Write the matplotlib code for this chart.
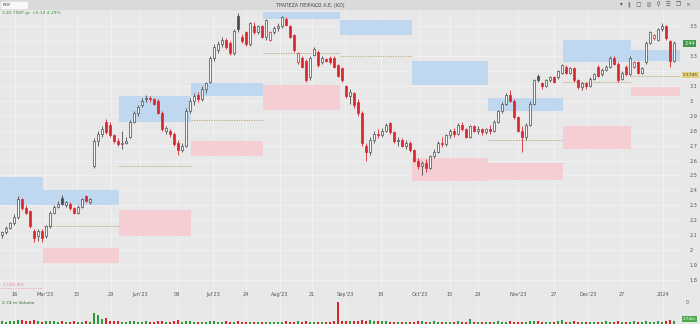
import numpy as np
import matplotlib.pyplot as plt
from matplotlib.patches import Rectangle

# daily candles (open, high, low, close)
opens = [2.10, 2.12, 2.15, 2.18, 2.22, 2.34, 2.28, 2.26, 2.13, 2.09,
         2.13, 2.09, 2.16, 2.25, 2.29, 2.35, 2.30, 2.31, 2.28, 2.25,
         2.29, 2.36, 2.32, 2.56, 2.73, 2.78, 2.86, 2.84, 2.77, 2.73,
         2.71, 2.72, 2.76, 2.86, 2.92, 2.97, 3.01, 3.02, 3.01, 3.00,
         2.92, 2.80, 2.80, 2.78, 2.72, 2.67, 2.70, 2.93, 3.00, 3.04,
         3.01, 3.08, 3.13, 3.29, 3.34, 3.38, 3.41, 3.39, 3.32, 3.57,
         3.43, 3.46, 3.38, 3.50, 3.46, 3.50, 3.43, 3.41, 3.46, 3.49,
         3.50, 3.55, 3.50, 3.44, 3.26, 3.29, 3.27, 3.16, 3.31, 3.33,
         3.26, 3.28, 3.29, 3.29, 3.24, 3.22, 3.10, 3.03, 3.05, 2.99,
         2.92, 2.70, 2.66, 2.74, 2.78, 2.77, 2.80, 2.85, 2.79, 2.73,
         2.74, 2.70, 2.72, 2.67, 2.60, 2.56, 2.58, 2.55, 2.63, 2.66,
         2.72, 2.71, 2.77, 2.80, 2.78, 2.84, 2.81, 2.76, 2.83, 2.80,
         2.81, 2.79, 2.81, 2.80, 2.86, 2.93, 2.98, 3.04, 3.00, 2.89,
         2.80, 2.76, 2.84, 2.98, 3.17, 3.12, 3.10, 3.14, 3.16, 3.16,
         3.19, 3.23, 3.19, 3.22, 3.14, 3.09, 3.12, 3.10, 3.15, 3.23,
         3.18, 3.21, 3.23, 3.29, 3.25, 3.15, 3.23, 3.18, 3.23, 3.26,
         3.19, 3.26, 3.39, 3.42, 3.41, 3.48, 3.50, 3.40, 3.27]
highs = [2.13, 2.16, 2.19, 2.24, 2.36, 2.35, 2.30, 2.27, 2.14, 2.14,
         2.14, 2.17, 2.26, 2.30, 2.33, 2.37, 2.33, 2.32, 2.29, 2.30,
         2.35, 2.37, 2.35, 2.75, 2.80, 2.83, 2.88, 2.86, 2.78, 2.75,
         2.80, 2.76, 2.87, 2.93, 2.97, 3.02, 3.04, 3.03, 3.02, 3.01,
         2.93, 2.83, 2.81, 2.79, 2.74, 2.72, 2.95, 3.02, 3.05, 3.06,
         3.10, 3.13, 3.30, 3.38, 3.40, 3.43, 3.42, 3.40, 3.48, 3.59,
         3.45, 3.47, 3.53, 3.53, 3.51, 3.51, 3.55, 3.47, 3.50, 3.52,
         3.57, 3.56, 3.51, 3.45, 3.33, 3.30, 3.28, 3.30, 3.36, 3.34,
         3.30, 3.29, 3.30, 3.30, 3.25, 3.23, 3.11, 3.08, 3.06, 3.01,
         2.93, 2.72, 2.76, 2.80, 2.81, 2.82, 2.85, 2.86, 2.80, 2.76,
         2.75, 2.74, 2.73, 2.68, 2.62, 2.60, 2.61, 2.64, 2.68, 2.73,
         2.76, 2.78, 2.81, 2.82, 2.85, 2.86, 2.82, 2.84, 2.84, 2.83,
         2.82, 2.82, 2.84, 2.87, 2.94, 2.99, 3.05, 3.07, 3.01, 2.90,
         2.83, 2.85, 3.00, 3.15, 3.18, 3.13, 3.15, 3.17, 3.17, 3.21,
         3.25, 3.24, 3.23, 3.23, 3.15, 3.13, 3.13, 3.16, 3.19, 3.24,
         3.22, 3.24, 3.30, 3.30, 3.26, 3.20, 3.24, 3.30, 3.27, 3.27,
         3.23, 3.40, 3.47, 3.45, 3.49, 3.52, 3.51, 3.41, 3.40]
lows = [2.08, 2.11, 2.14, 2.17, 2.21, 2.27, 2.24, 2.15, 2.05, 2.06,
        2.05, 2.08, 2.15, 2.24, 2.28, 2.30, 2.29, 2.27, 2.24, 2.24,
        2.28, 2.32, 2.31, 2.55, 2.70, 2.76, 2.78, 2.76, 2.72, 2.70,
        2.68, 2.71, 2.75, 2.85, 2.90, 2.96, 2.99, 2.99, 2.97, 2.91,
        2.80, 2.78, 2.76, 2.70, 2.64, 2.66, 2.69, 2.92, 2.97, 2.99,
        3.00, 3.05, 3.12, 3.27, 3.32, 3.36, 3.35, 3.31, 3.31, 3.46,
        3.39, 3.37, 3.37, 3.45, 3.45, 3.42, 3.41, 3.40, 3.45, 3.47,
        3.49, 3.50, 3.42, 3.33, 3.25, 3.22, 3.13, 3.14, 3.30, 3.23,
        3.25, 3.26, 3.25, 3.22, 3.16, 3.13, 3.02, 2.98, 2.95, 2.90,
        2.70, 2.60, 2.64, 2.72, 2.75, 2.76, 2.79, 2.78, 2.72, 2.70,
        2.69, 2.68, 2.66, 2.59, 2.54, 2.50, 2.52, 2.54, 2.62, 2.65,
        2.69, 2.70, 2.75, 2.76, 2.77, 2.80, 2.75, 2.75, 2.79, 2.78,
        2.77, 2.78, 2.78, 2.79, 2.85, 2.92, 2.97, 2.99, 2.88, 2.79,
        2.66, 2.74, 2.83, 2.97, 3.13, 3.08, 3.09, 3.13, 3.12, 3.15,
        3.18, 3.18, 3.18, 3.13, 3.08, 3.07, 3.08, 3.09, 3.14, 3.16,
        3.17, 3.20, 3.22, 3.24, 3.13, 3.14, 3.17, 3.17, 3.22, 3.18,
        3.18, 3.25, 3.38, 3.41, 3.40, 3.47, 3.41, 3.23, 3.26]
closes = [2.12, 2.15, 2.18, 2.22, 2.34, 2.28, 2.25, 2.16, 2.08, 2.13,
          2.08, 2.16, 2.25, 2.29, 2.31, 2.31, 2.32, 2.28, 2.25, 2.29,
          2.34, 2.33, 2.34, 2.73, 2.78, 2.81, 2.79, 2.77, 2.73, 2.71,
          2.72, 2.73, 2.86, 2.92, 2.96, 3.00, 3.02, 3.01, 2.98, 2.92,
          2.81, 2.82, 2.78, 2.71, 2.67, 2.70, 2.93, 3.00, 3.03, 3.01,
          3.08, 3.12, 3.29, 3.36, 3.38, 3.41, 3.36, 3.32, 3.47, 3.48,
          3.40, 3.38, 3.52, 3.46, 3.50, 3.43, 3.54, 3.46, 3.49, 3.50,
          3.56, 3.51, 3.43, 3.34, 3.32, 3.23, 3.14, 3.29, 3.35, 3.24,
          3.29, 3.27, 3.26, 3.23, 3.17, 3.14, 3.03, 3.06, 2.97, 2.92,
          2.72, 2.66, 2.74, 2.78, 2.77, 2.80, 2.84, 2.79, 2.73, 2.74,
          2.70, 2.72, 2.67, 2.60, 2.56, 2.58, 2.55, 2.63, 2.66, 2.72,
          2.71, 2.77, 2.80, 2.78, 2.84, 2.81, 2.76, 2.83, 2.80, 2.81,
          2.79, 2.81, 2.80, 2.86, 2.93, 2.98, 3.04, 3.00, 2.89, 2.80,
          2.76, 2.84, 2.98, 3.14, 3.14, 3.10, 3.14, 3.16, 3.13, 3.20,
          3.24, 3.19, 3.22, 3.14, 3.09, 3.12, 3.10, 3.15, 3.18, 3.17,
          3.21, 3.23, 3.29, 3.25, 3.14, 3.19, 3.18, 3.29, 3.26, 3.19,
          3.22, 3.39, 3.46, 3.44, 3.48, 3.50, 3.42, 3.27, 3.39]
volumes = [5, 4, 5, 6, 8, 7, 5, 6, 7, 5,
           4, 5, 6, 5, 4, 5, 4, 4, 5, 4,
           4, 5, 4, 22, 17, 10, 12, 6, 5, 5,
           4, 4, 5, 5, 4, 4, 5, 4, 4, 5,
           6, 4, 4, 5, 7, 4, 6, 5, 4, 4,
           4, 4, 6, 5, 4, 4, 5, 4, 4, 5,
           4, 4, 4, 4, 4, 4, 4, 4, 4, 4,
           4, 5, 4, 4, 5, 4, 5, 4, 4, 4,
           4, 4, 4, 5, 42, 5, 6, 5, 6, 5,
           7, 6, 7, 5, 5, 6, 5, 4, 4, 4,
           4, 4, 4, 4, 5, 5, 4, 4, 5, 4,
           4, 4, 4, 4, 6, 4, 4, 9, 4, 4,
           4, 4, 4, 4, 5, 4, 4, 5, 4, 4,
           4, 4, 5, 6, 5, 4, 4, 4, 4, 5,
           8, 4, 4, 5, 4, 4, 4, 4, 4, 4,
           4, 5, 4, 4, 5, 4, 4, 4, 5, 4,
           4, 5, 4, 4, 5, 4, 6, 7, 5]

# date axis labels and their bar index
tick_pos = [3.25, 10.75, 18.75, 27.25, 34.5, 43.75, 52.75, 61, 69.5, 77.5,
            85.75, 94.75, 104.5, 112, 119, 129, 138, 146.5, 155, 165.25]
tick_labels = ["16", "Mar'23", "15", "29", "Jun'23", "08", "Jul'23", "24",
               "Aug'23", "21", "Sep'23", "18", "Oct'23", "15", "29",
               "Nov'23", "27", "Dec'23", "27", "2024"]

# price ticks on the right (3.4 and 3.2 sit under the price tags)
price_ticks = [1.8, 1.9, 2.0, 2.1, 2.2, 2.3, 2.4, 2.5, 2.6, 2.7, 2.8, 2.9,
               3.0, 3.1, 3.2, 3.3, 3.4, 3.5]
price_labels = ['1.8', '1.9', '2', '2.1', '2.2', '2.3', '2.4', '2.5', '2.6',
                '2.7', '2.8', '2.9', '3', '3.1', '', '3.3', '', '3.5']

# supply / demand zones: start bar, end bar, blue range, red range, mid line
zone_start = [-0.5, 10.25, 29.25, 47.25, 65.25, 84.5, 102.5, 121.5, 140.25, 157.25]
zone_end = [10.25, 29.25, 47.25, 65.25, 84.5, 102.5, 121.5, 140.25, 157.25, 169.5]
blue_lo = [2.30, 2.30, 2.86, 3.03, 3.55, 3.44, 3.11, 2.93, 3.26, 3.27]
blue_hi = [2.49, 2.40, 3.03, 3.12, 3.60, 3.54, 3.27, 3.02, 3.41, 3.34]
red_lo = [None, 1.91, 2.09, 2.63, 2.94, None, 2.46, 2.47, 2.68, 3.03]
red_hi = [None, 2.01, 2.27, 2.73, 3.11, None, 2.62, 2.58, 2.83, 3.09]
mid_line = [None, 2.16, 2.56, 2.87, 3.32, 3.30, None, 2.74, 3.13, 3.17]

bg = '#e8e8e8'
grid_c = '#f2f2f2'
red = '#d8262f'
edge = '#4a4a4a'
green = '#2f9a3a'

fig = plt.figure(figsize=(7, 3.24), dpi=100)
fig.patch.set_facecolor(bg)
W, H = 700, 324


def box(x0, y0, x1, y1):
    return [x0 / W, 1 - y1 / H, (x1 - x0) / W, (y1 - y0) / H]


ax = fig.add_axes(box(0, 9, 681, 299))
vax = fig.add_axes(box(0, 299, 681, 324), sharex=ax)
for a in (ax, vax):
    a.set_facecolor(bg)
    for s in a.spines.values():
        s.set_visible(False)

n = len(closes)
idx = np.arange(n)
o = np.array(opens)
c = np.array(closes)
prev = np.r_[o[0], c[:-1]]

# zones
for k in range(len(zone_start)):
    x0, x1 = zone_start[k], zone_end[k]
    ax.add_patch(Rectangle((x0, blue_lo[k]), x1 - x0, blue_hi[k] - blue_lo[k],
                           color='#bfd7ef', lw=0, zorder=1))
    if red_lo[k] is not None:
        ax.add_patch(Rectangle((x0, red_lo[k]), x1 - x0, red_hi[k] - red_lo[k],
                               color='#f4ced3', lw=0, zorder=1))
    if mid_line[k] is not None:
        ax.hlines(mid_line[k], x0, x1, colors='#b39f63', lw=0.6,
                  linestyles=(0, (1.5, 1.5)), zorder=2)

# candles
for i in idx:
    down = c[i] < o[i]
    col = red if c[i] < prev[i] else edge
    ax.vlines(i, lows[i], highs[i], color=col, lw=0.6, zorder=3)
    lo, hi = min(o[i], c[i]), max(o[i], c[i])
    hgt = max(hi - lo, 0.004)
    ax.add_patch(Rectangle((i - 0.32, lo), 0.64, hgt,
                           facecolor=col if down else '#f7f7f7',
                           edgecolor=col, lw=0.5, zorder=4))

ax.set_xlim(-0.5, 169.75)
ax.set_ylim(1.6705, 3.6168)
ax.set_yticks(price_ticks)
ax.set_yticklabels(price_labels)
ax.yaxis.tick_right()
ax.tick_params(axis='y', length=0, labelsize=3.6, colors='#555555', pad=6)
ax.set_xticks(tick_pos)
ax.set_xticklabels(tick_labels)
ax.tick_params(axis='x', length=0, labelsize=3.6, colors='#555555', pad=-5)
ax.grid(True, color=grid_c, lw=0.6, zorder=0)
ax.set_axisbelow(True)

# current price / line tags on the right
ax.text(1.005, 3.385, '3.44', transform=ax.get_yaxis_transform(), fontsize=3.4,
        color='white', va='center', ha='left',
        bbox=dict(boxstyle='square,pad=0.25', fc='#3e9b45', ec='none'))
ax.text(1.003, 3.175, '3.1745', transform=ax.get_yaxis_transform(), fontsize=3.2,
        color='#444444', va='center', ha='left',
        bbox=dict(boxstyle='square,pad=0.25', fc='#e2d07c', ec='none'))
ax.hlines(1.745, -0.5, 10, colors='#f0a0aa', lw=0.6, linestyles=(0, (1.5, 1.5)))
ax.text(0.3, 1.75, '1.7456 RDF', fontsize=2.6, color='#e58a96', va='bottom')

# volume
vcol = [green if c[i] >= o[i] else red for i in idx]
vax.bar(idx, volumes, width=0.64, color=vcol, zorder=3)
vax.set_ylim(0, 48)
vax.set_yticks([])
vax.tick_params(axis='x', length=0, labelbottom=False)
vax.grid(True, axis='x', color=grid_c, lw=0.6, zorder=0)
vax.text(0.003, 0.86, '2.74 m Volume', transform=vax.transAxes, fontsize=3.2,
         color='#2d6e2d', va='center')
fig.text(686 / W, 1 - 303 / H, '0', fontsize=3.4, color='#555555', va='center')
fig.text(683 / W, 1 - 319 / H, '2.74m', fontsize=3.0, color='white', va='center',
         bbox=dict(boxstyle='square,pad=0.3', fc='#4caa4c', ec='none'))

# header strip
fig.patches.append(Rectangle((0, 1 - 9 / H), 1, 9 / H, transform=fig.transFigure,
                             color='#dadada', zorder=0))
fig.patches.append(Rectangle((1 / W, 1 - 8 / H), 26 / W, 6 / H, transform=fig.transFigure,
                             color='#f8f8f8', zorder=1))
fig.text(3 / W, 1 - 5 / H, 'RDF', fontsize=3.2, color='#444444', va='center')
fig.text(310 / W, 1 - 5 / H, 'ΤΡΑΠΕΖΑ ΠΕΙΡΑΙΩΣ Α.Ε. (ΚΟ)', fontsize=3.4,
         color='#444444', va='center', ha='center')
fig.text(2 / W, 1 - 13 / H, '3.40 TSEP gr. +0.14 4.29%', fontsize=3.2,
         color='#3a943a', va='center')
fig.text(620 / W, 1 - 5 / H, '▾   ‖   ▢   ◎   ⚲   ☰   ❐   ×', fontsize=4,
         color='#555555', va='center')

fig.savefig('out.png', dpi=100, facecolor=bg)
